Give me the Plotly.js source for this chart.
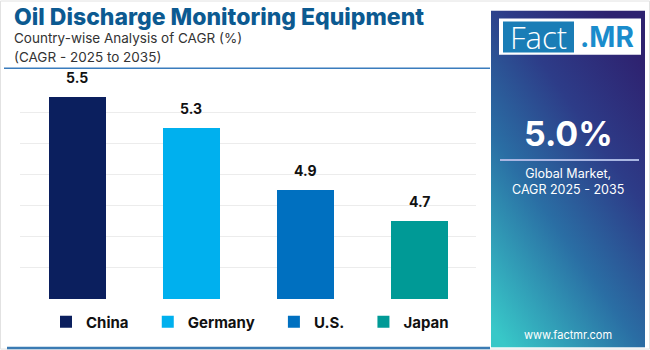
<!DOCTYPE html>
<html>
<head>
<meta charset="utf-8">
<script src="https://cdn.plot.ly/plotly-3.0.1.min.js"></script>
<style>html,body{margin:0;padding:0;background:#fff;}#chart{width:650px;height:350px;}</style>
</head>
<body>
<div id="chart"></div>
<script>
const categories = ["China", "Germany", "U.S.", "Japan"];
const cagrValues = [5.5, 5.3, 4.9, 4.7];
const barColors = ["#0b1f5e", "#00b0ee", "#0070c0", "#009a96"];
const titleText = "Oil Discharge Monitoring Equipment";
const subtitleLines = ["Country-wise Analysis of CAGR (%)", "(CAGR - 2025 to 2035)"];
const globalValue = "5.0%";
const globalLabel = ["Global Market,", "CAGR 2025 - 2035"];
const siteText = "www.factmr.com";

const L = 20, R = 476, T = 80.7, B = 299.3;
const px = x => (x - L) / (R - L);
const py = y => (B - y) / (B - T);

const legendPad = "\u00a0\u00a0\u00a0\u00a0";
const traces = categories.map((c, i) => ({
  type: "bar",
  name: i < categories.length - 1 ? c + legendPad : c,
  x: [c],
  y: [cagrValues[i]],
  marker: {color: barColors[i]},
  hoverinfo: "x+y"
}));

const font = "Inter, 'Open Sans', sans-serif";

const annotations = categories.map((c, i) => ({
  xref: "x", yref: "y", x: c, y: cagrValues[i],
  text: "<b>" + cagrValues[i].toFixed(1) + "</b>",
  showarrow: false, yanchor: "bottom", yshift: 9,
  font: {family: font, size: 14, color: "#111"}
}));

annotations.push(
  {xref: "paper", yref: "paper", x: px(12), y: py(16.5), xanchor: "left", yanchor: "middle",
   text: titleText, showarrow: false,
   font: {family: font, size: 23, color: "#0c5a91", weight: 800}},
  {xref: "paper", yref: "paper", x: px(12), y: py(37.5), xanchor: "left", yanchor: "middle",
   text: subtitleLines[0], showarrow: false, font: {family: font, size: 13.5, color: "#333"}},
  {xref: "paper", yref: "paper", x: px(12), y: py(56.5), xanchor: "left", yanchor: "middle",
   text: subtitleLines[1], showarrow: false, font: {family: font, size: 13.5, color: "#333"}},
  {xref: "paper", yref: "paper", x: px(538.5), y: py(37), xanchor: "center", yanchor: "middle",
   text: "Fact", showarrow: false, font: {family: "'Open Sans', sans-serif", size: 31, color: "#ffffff", weight: 300}},
  {xref: "paper", yref: "paper", x: px(607), y: py(37), xanchor: "center", yanchor: "middle",
   text: "<b>.MR</b>", showarrow: false, font: {family: font, size: 28, color: "#1a8ccc"}},
  {xref: "paper", yref: "paper", x: px(568), y: py(133), xanchor: "center", yanchor: "middle",
   text: "<b>" + globalValue + "</b>", showarrow: false, font: {family: font, size: 34, color: "#ffffff"}},
  {xref: "paper", yref: "paper", x: px(568), y: py(181.5), xanchor: "center", yanchor: "middle",
   text: globalLabel.join("<br>"), showarrow: false, font: {family: font, size: 12.5, color: "#ffffff"}},
  {xref: "paper", yref: "paper", x: px(568), y: py(335), xanchor: "center", yanchor: "middle",
   text: siteText, showarrow: false, font: {family: font, size: 11, color: "#ffffff"}}
);

const gradSvg = '<svg xmlns="http://www.w3.org/2000/svg" width="154" height="338" preserveAspectRatio="none">' +
  '<defs><linearGradient id="g" x1="0.75" y1="0" x2="0.1" y2="1">' +
  '<stop offset="0" stop-color="#2e2270"/><stop offset="0.3" stop-color="#2d3c88"/>' +
  '<stop offset="0.6" stop-color="#2a6ea4"/><stop offset="1" stop-color="#38c8c8"/></linearGradient></defs>' +
  '<rect width="154" height="338" fill="url(#g)"/></svg>';

const shapes = [
  {type: "rect", xref: "paper", yref: "paper", x0: px(0.5), x1: px(649.5), y0: py(0.5), y1: py(349.5),
   line: {color: "#e2e2e2", width: 1}, fillcolor: "rgba(0,0,0,0)", layer: "below"},
  {type: "line", xref: "paper", yref: "paper", x0: px(4), x1: px(490), y0: py(68), y1: py(68),
   line: {color: "#3a7cbd", width: 1.5}},
  {type: "line", xref: "paper", yref: "paper", x0: px(7), x1: px(490), y0: py(348.5), y1: py(348.5),
   line: {color: "#3b7bb3", width: 2.5}},
  {type: "rect", xref: "paper", yref: "paper", x0: px(499), x1: px(641), y0: py(18), y1: py(54.5),
   line: {width: 0}, fillcolor: "#ffffff"},
  {type: "rect", xref: "paper", yref: "paper", x0: px(503), x1: px(574), y0: py(21), y1: py(52),
   line: {width: 0}, fillcolor: "#1a7db6"},
  {type: "line", xref: "paper", yref: "paper", x0: px(500), x1: px(639), y0: py(160), y1: py(160),
   line: {color: "#a9b6e2", width: 2}}
];

const layout = {
  width: 650, height: 350,
  margin: {l: L, r: 650 - R, t: T, b: 350 - B, pad: 0, autoexpand: false},
  paper_bgcolor: "#ffffff", plot_bgcolor: "#ffffff",
  barmode: "stack", bargap: 0.5,
  showlegend: true,
  legend: {orientation: "h", xref: "container", yref: "container",
           x: 46 / 650, y: (350 - 322) / 350, xanchor: "left", yanchor: "middle",
           font: {family: font, size: 15, color: "#111", weight: 700},
           bgcolor: "rgba(0,0,0,0)", traceorder: "normal"},
  xaxis: {showticklabels: false, showgrid: false, zeroline: false, showline: false, ticks: "",
          categoryorder: "array", categoryarray: categories, fixedrange: true},
  yaxis: {range: [4.2, 5.6], dtick: 0.2, tick0: 4.2, showticklabels: false, ticks: "",
          showgrid: true, gridcolor: "#ececec", gridwidth: 1, zeroline: false, showline: false, fixedrange: true},
  annotations: annotations,
  shapes: shapes,
  images: [{source: "data:image/svg+xml;charset=utf-8," + encodeURIComponent(gradSvg),
            xref: "paper", yref: "paper", x: px(491), y: py(10), sizex: px(645) - px(491),
            sizey: py(10) - py(348), xanchor: "left", yanchor: "top", sizing: "stretch", layer: "below"}]
};

Plotly.newPlot("chart", traces, layout, {displayModeBar: false, staticPlot: true});
</script>
</body>
</html>
